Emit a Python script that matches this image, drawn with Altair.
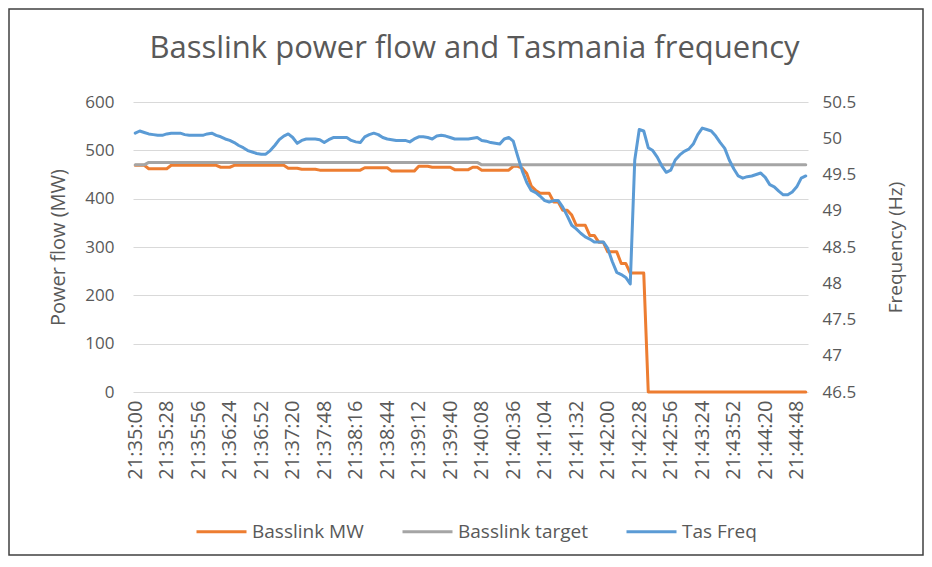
import altair as alt
import pandas as pd
from datetime import datetime, timedelta

# ---- categories: one sample every 4 s from 21:35:00 ----
start = datetime(2000, 1, 1, 21, 35, 0)
times = [(start + timedelta(seconds=4 * i)).strftime("%H:%M:%S") for i in range(150)]
tick_labels = times[::7]

series_names = ["Basslink MW", "Basslink target", "Tas Freq"]
series_colors = ["#ED7D31", "#A5A5A5", "#5B9BD5"]

basslink_mw = [
    469, 469, 469, 462, 462, 462, 462, 462, 469, 469,
    469, 469, 469, 469, 469, 469, 469, 469, 469, 465,
    465, 465, 469, 469, 469, 469, 469, 469, 469, 469,
    469, 469, 469, 469, 463, 463, 463, 461, 461, 461,
    461, 459, 459, 459, 459, 459, 459, 459, 459, 459,
    459, 464, 464, 464, 464, 464, 464, 457, 457, 457,
    457, 457, 457, 467, 467, 467, 465, 465, 465, 465,
    465, 460, 460, 460, 460, 465, 465, 459, 459, 459,
    459, 459, 459, 459, 467, 467, 463, 452, 426, 417,
    411, 411, 411, 393, 393, 376, 376, 366, 345, 345,
    345, 324, 324, 310, 310, 290, 290, 290, 266, 266,
    246, 246, 246, 246, 0, 0, 0, 0, 0, 0,
    0, 0, 0, 0, 0, 0, 0, 0, 0, 0,
    0, 0, 0, 0, 0, 0, 0, 0, 0, 0,
    0, 0, 0, 0, 0, 0, 0, 0, 0, 0,
]

basslink_target = [
    470, 470, 470, 475, 475, 475, 475, 475, 475, 475,
    475, 475, 475, 475, 475, 475, 475, 475, 475, 475,
    475, 475, 475, 475, 475, 475, 475, 475, 475, 475,
    475, 475, 475, 475, 475, 475, 475, 475, 475, 475,
    475, 475, 475, 475, 475, 475, 475, 475, 475, 475,
    475, 475, 475, 475, 475, 475, 475, 475, 475, 475,
    475, 475, 475, 475, 475, 475, 475, 475, 475, 475,
    475, 475, 475, 475, 475, 475, 475, 470, 470, 470,
    470, 470, 470, 470, 470, 470, 470, 470, 470, 470,
    470, 470, 470, 470, 470, 470, 470, 470, 470, 470,
    470, 470, 470, 470, 470, 470, 470, 470, 470, 470,
    470, 470, 470, 470, 470, 470, 470, 470, 470, 470,
    470, 470, 470, 470, 470, 470, 470, 470, 470, 470,
    470, 470, 470, 470, 470, 470, 470, 470, 470, 470,
    470, 470, 470, 470, 470, 470, 470, 470, 470, 470,
]

tas_freq = [
    50.07, 50.10, 50.08, 50.06, 50.05, 50.04, 50.04, 50.06, 50.07, 50.07,
    50.07, 50.05, 50.04, 50.04, 50.04, 50.04, 50.06, 50.07, 50.04, 50.02,
    49.99, 49.97, 49.94, 49.90, 49.87, 49.83, 49.81, 49.79, 49.78, 49.78,
    49.83, 49.90, 49.98, 50.03, 50.06, 50.01, 49.93, 49.97, 49.99, 49.99,
    49.99, 49.98, 49.94, 49.98, 50.01, 50.01, 50.01, 50.01, 49.97, 49.95,
    49.94, 50.02, 50.05, 50.07, 50.05, 50.01, 49.99, 49.98, 49.97, 49.97,
    49.97, 49.95, 49.99, 50.02, 50.02, 50.01, 49.99, 50.03, 50.04, 50.03,
    50.01, 49.99, 49.99, 49.99, 49.99, 50.00, 50.01, 49.97, 49.96, 49.94,
    49.93, 49.92, 49.99, 50.01, 49.96, 49.75, 49.55, 49.39, 49.28, 49.25,
    49.20, 49.14, 49.12, 49.14, 49.14, 49.05, 48.93, 48.80, 48.75, 48.69,
    48.64, 48.61, 48.57, 48.57, 48.57, 48.48, 48.30, 48.15, 48.12, 48.08,
    47.99, 49.70, 50.12, 50.10, 49.87, 49.83, 49.74, 49.62, 49.53, 49.56,
    49.70, 49.77, 49.82, 49.85, 49.92, 50.05, 50.14, 50.12, 50.10, 50.03,
    49.94, 49.86, 49.70, 49.58, 49.48, 49.45, 49.47, 49.48, 49.50, 49.52,
    49.46, 49.36, 49.33, 49.27, 49.22, 49.22, 49.26, 49.33, 49.45, 49.48,
]

left_ticks = [0, 100, 200, 300, 400, 500, 600]
right_ticks = [46.5, 47, 47.5, 48, 48.5, 49, 49.5, 50, 50.5]

TEXT = "#595959"
FONT = "Open Sans"

def frame(values, name):
    return pd.DataFrame({"time": times, "value": values, "series": name})

df_mw = frame(basslink_mw, series_names[0])
df_target = frame(basslink_target, series_names[1])
df_freq = frame(tas_freq, series_names[2])

x_enc = alt.X(
    "time:O",
    sort=times,
    scale=alt.Scale(type="point", padding=0.5),
    axis=alt.Axis(
        values=tick_labels, labelAngle=270, title=None, ticks=False, domain=False,
        grid=False, labelPadding=8, labelFontSize=20, labelColor=TEXT, labelFont=FONT,
    ),
)

color_enc = alt.Color(
    "series:N",
    scale=alt.Scale(domain=series_names, range=series_colors),
    legend=alt.Legend(
        orient="none", legendX=62, legendY=403, direction="horizontal", title=None,
        symbolType="stroke", symbolSize=2500, symbolStrokeWidth=3,
        labelFontSize=19, labelColor=TEXT, labelFont=FONT, columnPadding=32,
        labelOffset=4,
    ),
)

left_axis = alt.Axis(
    values=left_ticks, title="Power flow (MW)", grid=True, gridColor="#D9D9D9",
    gridWidth=1, domain=False, ticks=False, labelPadding=19, labelFontSize=17,
    labelColor=TEXT, labelFont=FONT, titleFontSize=20, titleFontWeight="normal",
    titleColor=TEXT, titleFont=FONT, titlePadding=16,
)
left_scale = alt.Scale(domain=[0, 600])

line_kw = dict(strokeWidth=3, strokeJoin="round", strokeCap="round")

mw_line = alt.Chart(df_mw).mark_line(**line_kw).encode(
    x=x_enc, y=alt.Y("value:Q", scale=left_scale, axis=left_axis), color=color_enc
)
target_line = alt.Chart(df_target).mark_line(**line_kw).encode(
    x=x_enc, y=alt.Y("value:Q", scale=left_scale, axis=left_axis), color=color_enc
)
left_layer = alt.layer(mw_line, target_line)

freq_line = alt.Chart(df_freq).mark_line(**line_kw).encode(
    x=x_enc,
    y=alt.Y(
        "value:Q",
        scale=alt.Scale(domain=[46.5, 50.5]),
        axis=alt.Axis(
            orient="right", values=right_ticks, format=".1~f", title="Frequency (Hz)",
            titleAngle=270, titleBaseline="top", grid=False, domain=False, ticks=False,
            labelPadding=14, labelFontSize=17, labelColor=TEXT, labelFont=FONT,
            titleFontSize=19, titleFontWeight="normal", titleColor=TEXT,
            titleFont=FONT, titlePadding=31,
        ),
    ),
    color=color_enc,
)

border = alt.Chart(pd.DataFrame({"a": [0]})).mark_rect(
    fillOpacity=0, stroke="#404040", strokeWidth=1.5
).encode(
    x=alt.value(-124), x2=alt.value(790), y=alt.value(-93), y2=alt.value(453)
)

chart = (
    alt.layer(border, left_layer, freq_line)
    .resolve_scale(y="independent")
    .properties(
        width=675,
        height=290,
        autosize=alt.AutoSizeParams(type="none"),
        padding={"left": 125, "top": 94, "right": 116, "bottom": 165},
        title=alt.TitleParams(
            "Basslink power flow and Tasmania frequency", fontSize=31,
            fontWeight="normal", color=TEXT, font=FONT, anchor="middle", offset=-57,
            dx=4,
        ),
    )
    .configure_view(stroke=None)
)

chart.save("out.html", embed_options={"renderer": "svg", "actions": False})
